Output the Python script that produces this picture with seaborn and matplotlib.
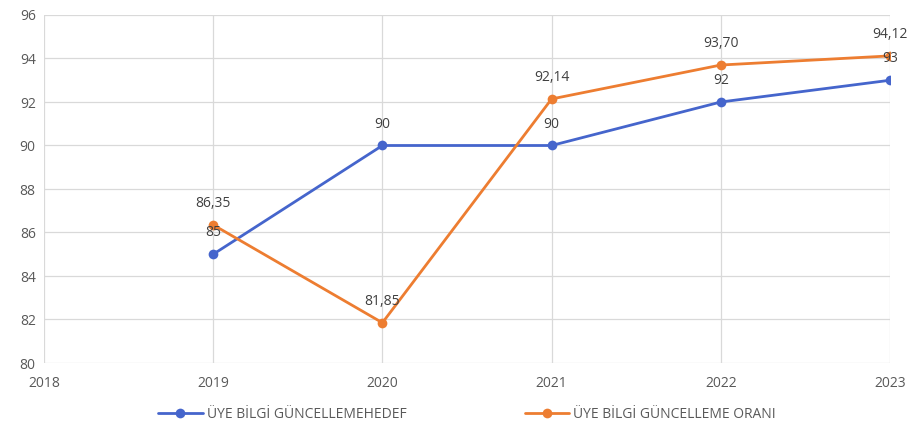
import pandas as pd
import matplotlib.pyplot as plt
import seaborn as sns

# chart values
years = [2019, 2020, 2021, 2022, 2023]
hedef = [85, 90, 90, 92, 93]
oran = [86.35, 81.85, 92.14, 93.70, 94.12]
hedef_labels = ["85", "90", "90", "92", "93"]
oran_labels = ["86,35", "81,85", "92,14", "93,70", "94,12"]
series_names = ["ÜYE BİLGİ GÜNCELLEMEHEDEF", "ÜYE BİLGİ GÜNCELLEME ORANI"]

df = pd.DataFrame({
    "Yil": years * 2,
    "Deger": hedef + oran,
    "Seri": [series_names[0]] * len(years) + [series_names[1]] * len(years),
})

sns.set_style("white")
plt.rcParams['font.family'] = ['Open Sans', 'DejaVu Sans']

colors = {series_names[0]: "#4565CC", series_names[1]: "#ED7D31"}

fig = plt.figure(figsize=(9.09, 4.23), dpi=100)
ax = fig.add_axes([44 / 909, 1 - 363 / 423, (890 - 44) / 909, (363 - 15) / 423])

sns.lineplot(data=df, x="Yil", y="Deger", hue="Seri", palette=colors,
             marker="o", markersize=7, markeredgewidth=0, linewidth=2, ax=ax)

# data labels above points
for x, y, t in zip(years, hedef, hedef_labels):
    ax.annotate(t, (x, y), xytext=(0, 10), textcoords="offset points",
                ha="center", va="bottom", fontsize=10, color="#404040")
for x, y, t in zip(years, oran, oran_labels):
    ax.annotate(t, (x, y), xytext=(0, 10), textcoords="offset points",
                ha="center", va="bottom", fontsize=10, color="#404040")

ax.set_xlim(2018, 2023)
ax.set_ylim(80, 96)
ax.set_xticks(range(2018, 2024))
ax.set_yticks(range(80, 97, 2))
ax.grid(True, color="#D9D9D9", linewidth=0.9)
ax.set_axisbelow(True)
for s in ax.spines.values():
    s.set_visible(False)
ax.tick_params(axis="both", length=0, labelsize=10, colors="#595959")
ax.tick_params(axis="x", pad=9)
ax.tick_params(axis="y", pad=6)
ax.set_xlabel("")
ax.set_ylabel("")

handles, labels = ax.get_legend_handles_labels()
ax.get_legend().remove()
leg = fig.legend(handles, labels, loc="center", bbox_to_anchor=(467 / 909, 1 - 414 / 423),
                 ncol=2, frameon=False, fontsize=10, columnspacing=8.5,
                 handlelength=3.2, handletextpad=0.3)
for text in leg.get_texts():
    text.set_color("#595959")

fig.savefig("out.png", dpi=100, facecolor="white")
